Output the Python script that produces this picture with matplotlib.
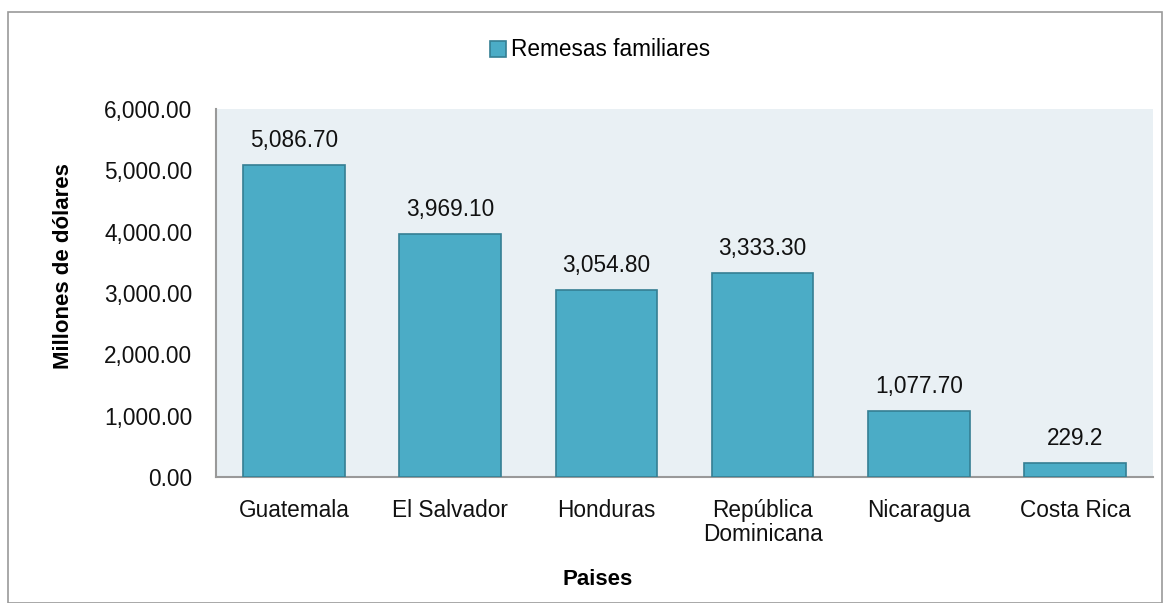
import matplotlib.pyplot as plt
from matplotlib.patches import Rectangle
from matplotlib.ticker import FuncFormatter

paises = ["Guatemala", "El Salvador", "Honduras", "República\nDominicana", "Nicaragua", "Costa Rica"]
remesas = [5086.70, 3969.10, 3054.80, 3333.30, 1077.70, 229.2]
etiquetas = ["5,086.70", "3,969.10", "3,054.80", "3,333.30", "1,077.70", "229.2"]

plt.rcParams["font.family"] = ["Liberation Sans", "DejaVu Sans"]
FS = 16.3

fig = plt.figure(figsize=(11.67, 6.03), dpi=100)
ax = fig.add_axes([216 / 1167, 1 - 477 / 603, (1153 - 216) / 1167, (477 - 109) / 603])
# marco gris alrededor del gráfico
fig.patches.append(Rectangle((8 / 1167, 0), (1162 - 8) / 1167, 1 - 12 / 603,
                             transform=fig.transFigure, fill=False,
                             edgecolor="#9a9a9a", linewidth=1.2))

x = range(len(paises))
bars = ax.bar(x, remesas, width=0.65, color="#4BACC6", edgecolor="#357F93",
              linewidth=1.2, label="Remesas familiares", zorder=3)
for xi, v, t in zip(x, remesas, etiquetas):
    ax.text(xi, v + 210, t, ha="center", va="bottom", fontsize=FS, color="#111111")

ax.set_facecolor("#E9F0F4")
ax.set_xlim(-0.5, len(paises) - 0.5)
ax.set_ylim(0, 6000)
ax.set_yticks(range(0, 6001, 1000))
ax.yaxis.set_major_formatter(FuncFormatter(lambda v, p: f"{v:,.2f}"))
ax.set_xticks(list(x))
ax.set_xticklabels(paises, linespacing=1.05)
ax.tick_params(axis="both", length=0, labelsize=FS, colors="#111111")
ax.tick_params(axis="x", pad=16)
ax.tick_params(axis="y", pad=17)
for s in ["top", "right"]:
    ax.spines[s].set_visible(False)
for s in ["left", "bottom"]:
    ax.spines[s].set_color("#999999")
    ax.spines[s].set_linewidth(1.5)

ax.set_xlabel("Paises", fontsize=16, fontweight="bold")
ax.set_ylabel("Millones de dólares", fontsize=16, fontweight="bold")
ax.xaxis.set_label_coords(0.407, -0.250)
ax.yaxis.set_label_coords(-0.152, 0.573)

fig.legend(handles=[bars], labels=["Remesas familiares"], loc="center",
           bbox_to_anchor=(600 / 1167, 1 - 50 / 603), frameon=False,
           fontsize=FS, handlelength=0.7, handleheight=0.7, handletextpad=0.2)

fig.savefig("out.png", dpi=100)
